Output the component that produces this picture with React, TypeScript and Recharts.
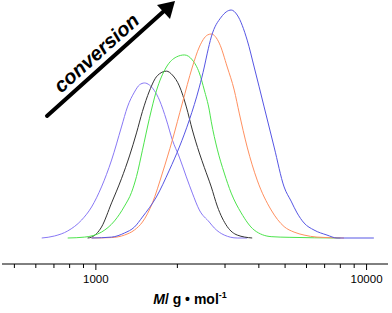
import React from 'react'
import { LineChart, Line, XAxis, YAxis } from 'recharts'

// molar mass (g/mol) vs normalised signal
const trace1 = [
  { m: 631, v: 0 }, { m: 704, v: 0.009 }, { m: 787, v: 0.031 }, { m: 886, v: 0.079 },
  { m: 964, v: 0.136 }, { m: 1049, v: 0.224 }, { m: 1143, v: 0.342 }, { m: 1243, v: 0.487 },
  { m: 1308, v: 0.575 }, { m: 1388, v: 0.64 }, { m: 1450, v: 0.672 }, { m: 1512, v: 0.68 },
  { m: 1577, v: 0.671 }, { m: 1717, v: 0.605 }, { m: 1822, v: 0.518 }, { m: 1917, v: 0.43 },
  { m: 2034, v: 0.355 }, { m: 2159, v: 0.268 }, { m: 2272, v: 0.197 }, { m: 2411, v: 0.123 },
  { m: 2624, v: 0.07 }, { m: 2738, v: 0.044 }, { m: 2980, v: 0.013 }, { m: 3328, v: 0 },
  { m: 3622, v: 0 },
]

const trace2 = [
  { m: 932, v: 0 }, { m: 964, v: 0.004 }, { m: 1049, v: 0.048 }, { m: 1143, v: 0.154 },
  { m: 1243, v: 0.26 }, { m: 1331, v: 0.36 }, { m: 1413, v: 0.461 }, { m: 1486, v: 0.555 },
  { m: 1577, v: 0.645 }, { m: 1687, v: 0.712 }, { m: 1822, v: 0.732 }, { m: 1917, v: 0.715 },
  { m: 2034, v: 0.667 }, { m: 2159, v: 0.575 }, { m: 2272, v: 0.474 }, { m: 2411, v: 0.373 },
  { m: 2515, v: 0.31 }, { m: 2669, v: 0.224 }, { m: 2808, v: 0.14 }, { m: 3057, v: 0.05 },
  { m: 3328, v: 0.013 }, { m: 3780, v: 0 },
]

const trace3 = [
  { m: 787, v: 0 }, { m: 909, v: 0.004 }, { m: 1049, v: 0.026 }, { m: 1172, v: 0.075 },
  { m: 1276, v: 0.14 }, { m: 1354, v: 0.2 }, { m: 1413, v: 0.27 }, { m: 1486, v: 0.385 },
  { m: 1577, v: 0.525 }, { m: 1673, v: 0.645 }, { m: 1822, v: 0.75 }, { m: 1983, v: 0.794 },
  { m: 2123, v: 0.803 }, { m: 2272, v: 0.781 }, { m: 2411, v: 0.724 }, { m: 2515, v: 0.649 },
  { m: 2624, v: 0.561 }, { m: 2669, v: 0.51 }, { m: 2808, v: 0.39 }, { m: 2980, v: 0.285 },
  { m: 3162, v: 0.197 }, { m: 3443, v: 0.11 }, { m: 3844, v: 0.035 }, { m: 4441, v: 0.006 },
  { m: 5173, v: 0.003 }, { m: 8000, v: 0 },
]

const trace4 = [
  { m: 964, v: 0 }, { m: 1143, v: 0.002 }, { m: 1276, v: 0.013 }, { m: 1388, v: 0.035 },
  { m: 1486, v: 0.07 }, { m: 1618, v: 0.154 }, { m: 1761, v: 0.285 }, { m: 1917, v: 0.43 },
  { m: 2087, v: 0.592 }, { m: 2272, v: 0.75 }, { m: 2411, v: 0.838 }, { m: 2580, v: 0.89 },
  { m: 2669, v: 0.895 }, { m: 2856, v: 0.855 }, { m: 3057, v: 0.75 }, { m: 3244, v: 0.649 },
  { m: 3385, v: 0.548 }, { m: 3622, v: 0.399 }, { m: 3944, v: 0.254 }, { m: 4441, v: 0.123 },
  { m: 4959, v: 0.05 }, { m: 5397, v: 0.026 }, { m: 5875, v: 0.013 }, { m: 6560, v: 0.004 },
  { m: 8251, v: 0 },
]

const trace5 = [
  { m: 964, v: 0 }, { m: 1143, v: 0.004 }, { m: 1276, v: 0.022 }, { m: 1388, v: 0.048 },
  { m: 1486, v: 0.092 }, { m: 1673, v: 0.18 }, { m: 1869, v: 0.298 }, { m: 2034, v: 0.399 },
  { m: 2215, v: 0.518 }, { m: 2411, v: 0.662 }, { m: 2515, v: 0.75 }, { m: 2580, v: 0.811 },
  { m: 2669, v: 0.882 }, { m: 2905, v: 0.969 }, { m: 3162, v: 1.0 }, { m: 3328, v: 0.978 },
  { m: 3622, v: 0.868 }, { m: 3844, v: 0.75 }, { m: 4184, v: 0.575 }, { m: 4555, v: 0.399 },
  { m: 4959, v: 0.224 }, { m: 5262, v: 0.162 }, { m: 5537, v: 0.11 }, { m: 5875, v: 0.066 },
  { m: 6395, v: 0.035 }, { m: 7140, v: 0.013 }, { m: 7775, v: 0 }, { m: 10640, v: 0 },
]

const xTicks = [500, 600, 700, 800, 900, 1000, 2000, 3000, 4000, 5000, 6000, 7000, 8000, 9000, 10000]
const labelledTicks = [1000, 10000]

const font = '"Liberation Sans", Arial, sans-serif'

function MassTick(props: any) {
  const { x, y, payload } = props
  const major = labelledTicks.includes(payload.value)
  const axisY = y - 8
  return (
    <g>
      <line x1={x} x2={x} y1={axisY} y2={axisY + (major ? 6 : 4)} stroke="#000" strokeWidth={1} />
      {major && (
        <text x={x} y={y} dy={11} textAnchor="middle" fontSize={11.5} fontFamily={font} fill="#000">
          {payload.value}
        </text>
      )}
    </g>
  )
}

function AxisTitle(props: any) {
  const { viewBox } = props
  const cx = viewBox.x + viewBox.width / 2 - 5
  return (
    <text x={cx} y={304} textAnchor="middle" fontFamily={font} fontWeight="bold" fontSize={14} fill="#000">
      <tspan fontStyle="italic">M</tspan>
      <tspan>/ g • mol</tspan>
      <tspan fontSize={9} dy={-6}>-1</tspan>
    </text>
  )
}

export default function App() {
  return (
    <div style={{ position: 'absolute', left: 0, top: 0, width: 392, height: 313, background: '#fff' }}>
      <LineChart width={392} height={313} margin={{ top: 0, right: 4, bottom: 0, left: 2 }}>
        <XAxis
          type="number"
          dataKey="m"
          scale="log"
          domain={[450, 12000]}
          allowDataOverflow
          ticks={xTicks}
          tick={<MassTick />}
          tickLine={false}
          axisLine={{ stroke: '#000', strokeWidth: 1 }}
          height={49}
          interval={0}
          label={{ content: <AxisTitle /> }}
        />
        <YAxis type="number" domain={[-0.114, 1.044]} allowDataOverflow hide />
        <Line data={trace1} dataKey="v" type="monotone" stroke="#8878f5" strokeWidth={1} dot={false} isAnimationActive={false} />
        <Line data={trace2} dataKey="v" type="monotone" stroke="#333333" strokeWidth={1} dot={false} isAnimationActive={false} />
        <Line data={trace3} dataKey="v" type="monotone" stroke="#4ce44c" strokeWidth={1} dot={false} isAnimationActive={false} />
        <Line data={trace4} dataKey="v" type="monotone" stroke="#ff9060" strokeWidth={1} dot={false} isAnimationActive={false} />
        <Line data={trace5} dataKey="v" type="monotone" stroke="#5656e4" strokeWidth={1} dot={false} isAnimationActive={false} />
      </LineChart>
      <svg width={392} height={313} style={{ position: 'absolute', left: 0, top: 0, pointerEvents: 'none' }}>
        <line x1={47} y1={116} x2={164} y2={11} stroke="#000" strokeWidth={4} strokeLinecap="round" />
        <polygon points="175,1 170,19 157,5" fill="#000" />
        <text
          x={101}
          y={58}
          textAnchor="middle"
          fontFamily={font}
          fontWeight="bold"
          fontStyle="italic"
          fontSize={20}
          fill="#000"
          transform="rotate(-42 101 58)"
        >
          conversion
        </text>
      </svg>
    </div>
  )
}
